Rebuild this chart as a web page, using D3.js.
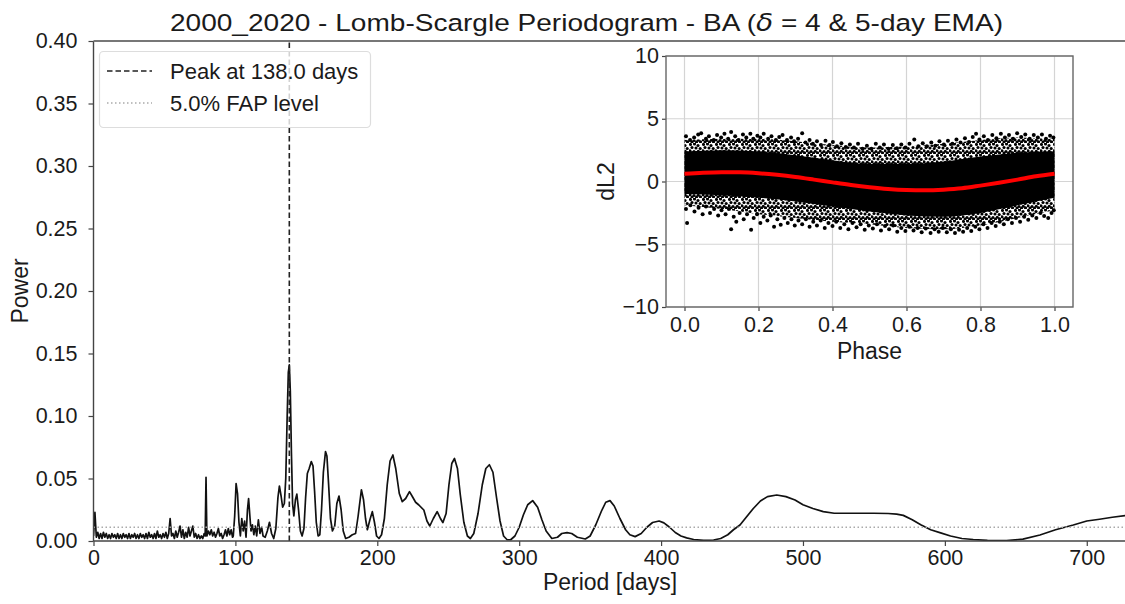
<!DOCTYPE html>
<html><head><meta charset="utf-8">
<script src="https://cdn.jsdelivr.net/npm/d3@7"></script>
<style>
body{margin:0;background:#fff;}
svg{display:block;font-family:"Liberation Sans",Arial,sans-serif;}
</style></head><body>
<svg id="c" width="1125" height="604"></svg>
<script>
// ---------- main periodogram ----------
const periods = [0,1,2,3,4,5,6,7,8,9,10,11,12,13,14,15,16,17,18,19,20,21,22,23,24,25,26,27,28,29,
30,31,32,33,34,35,36,37,38,39,40,41,42,43,44,45,46,47,48,49,50,51,52,53,54,55,56,57,58,59,
60,61,62,63,64,65,66,67,68,69,70,71,72,73,74,75,76,77,78,78.7,79.3,79.9,81,82,83,84,85,86,87,88,89,
90,91,92,93,94,95,96,97,98,
98.5,99.5,100.5,101.5,102.5,103.5,104.5,105.5,106.5,107.5,108.5,109.3,110.2,111,112,113,114,115,116.2,117.3,
118.5,119.5,121,122.5,124,125.5,127,128.5,130,131,132.2,133.3,134.5,135.5,136.5,137.3,138,138.7,139.5,140.3,
141.2,142.3,143.3,144.5,145.8,147,148.3,149.5,150.7,152,153.5,154.7,155.8,157,158.3,159.5,160.7,162,163.5,164.5,
165.7,167,168.4,170,171.5,173,174.5,176,177.7,180,182.4,184.7,186.5,188.8,190.3,191.7,193,194.8,196.5,198,
199.5,201.2,203,205,207,209,211,213,215.5,217.6,220,222.7,225,227,229.3,232.8,235,237,239.5,242.2,
244.5,246.2,248.5,250.5,252.5,254.4,256.5,258.5,261,263.5,265.6,268,271,274,276.5,279,281.5,284,286.5,289,
291.5,294,297,300,303,306,309.5,313,316,319,323,327,330,333.7,337,341,346.6,350,354,358,
361,364,367,371,375,378,381.7,386,390,394,398.6,402,406,410,414,418,423,430,437,442,
447,451,455.6,460,465,470,475,481.5,488,494.4,500,507,514.3,522,530,540,550,560,566,570.7,
577,583,590,597,604,612,620,630,643.5,655,667,678,690.5,700,709,718,727];
const power = [0.004,0.023,0.003,0.007,0.002,0.006,0.002,0.007,0.003,0.006,
0.002,0.005,0.002,0.006,0.003,0.005,0.002,0.006,0.002,0.005,
0.002,0.006,0.003,0.005,0.002,0.006,0.002,0.005,0.003,0.006,
0.002,0.005,0.002,0.006,0.003,0.005,0.002,0.006,0.002,0.007,
0.003,0.005,0.002,0.006,0.002,0.008,0.003,0.005,0.002,0.006,
0.003,0.007,0.002,0.006,0.018,0.004,0.006,0.002,0.008,0.003,
0.007,0.012,0.003,0.009,0.002,0.007,0.003,0.011,0.004,0.008,
0.012,0.003,0.006,0.002,0.005,0.002,0.004,0.002,0.006,0.004,0.051,0.004,
0.008,0.005,0.009,0.004,0.007,0.003,0.006,0.010,0.004,0.006,0.002,0.005,0.009,0.004,0.010,0.005,0.009,0.003,
0.004,0.02,0.046,0.038,0.015,0.004,0.018,0.008,0.016,0.003,0.025,0.034,0.02,0.008,0.013,0.005,0.012,0.004,0.017,0.006,
0.011,0.004,0.003,0.008,0.015,0.006,0.002,0.01,0.035,0.044,0.036,0.027,0.03,0.05,0.1,0.135,0.141,0.12,0.07,0.03,
0.02,0.033,0.0375,0.025,0.008,0.004,0.01,0.035,0.054,0.058,0.0635,0.06,0.04,0.015,0.004,0.005,0.025,0.055,0.0715,0.068,
0.045,0.018,0.008,0.012,0.03,0.036,0.025,0.008,0.002,0.003,0.005,0.006,0.02,0.041,0.033,0.018,0.009,0.017,0.0235,0.015,
0.004,0.002,0.005,0.018,0.045,0.064,0.0688,0.058,0.038,0.0315,0.034,0.0395,0.035,0.031,0.0288,0.0248,0.016,0.012,0.018,0.0235,
0.018,0.0147,0.022,0.045,0.062,0.066,0.058,0.037,0.015,0.004,0.002,0.006,0.022,0.045,0.058,0.061,0.055,0.035,0.016,0.004,
0.001,0.001,0.004,0.011,0.021,0.029,0.0323,0.027,0.017,0.008,0.002,0.003,0.006,0.0067,0.006,0.003,0.0016,0.004,0.013,0.024,
0.031,0.0323,0.028,0.018,0.009,0.005,0.0035,0.006,0.011,0.0148,0.016,0.0145,0.011,0.0068,0.004,0.0025,0.0012,0.0005,0.0008,0.002,
0.005,0.009,0.0128,0.019,0.026,0.032,0.0355,0.0368,0.0355,0.0328,0.029,0.026,0.0235,0.0222,0.0222,0.0222,0.0222,0.022,0.0215,0.0205,
0.017,0.013,0.009,0.0065,0.004,0.002,0.0012,0.0005,0.0003,0.0015,0.0048,0.009,0.0128,0.016,0.0174,0.019,0.0203];
const peakPeriod = 138.0;
const fapLevel = 0.011;
const xTicks = [0,100,200,300,400,500,600,700];
const yTicks = [0,0.05,0.10,0.15,0.20,0.25,0.30,0.35,0.40];
const legendLabels = ["Peak at 138.0 days","5.0% FAP level"];

// ---------- inset: phase-folded data ----------
const fitPhase = [0,0.05,0.1,0.15,0.2,0.25,0.3,0.35,0.4,0.45,0.5,0.55,0.6,0.65,0.7,0.75,0.8,0.85,0.9,0.95,1.0];
const fitValue = [0.62,0.70,0.74,0.73,0.66,0.53,0.36,0.15,-0.07,-0.28,-0.46,-0.6,-0.68,-0.7,-0.65,-0.54,-0.33,-0.1,0.15,0.42,0.62];
// dense scatter: solid core and speckled outer band (envelopes)
const bandPhase = [0,0.1,0.2,0.3,0.4,0.5,0.6,0.7,0.8,0.9,1.0];
const coreHigh = [2.4,2.5,2.4,2.1,1.7,1.4,1.4,1.6,2.0,2.3,2.4];
const coreLow = [-1.0,-1.1,-1.3,-1.6,-2.0,-2.4,-2.7,-2.8,-2.5,-1.9,-1.3];
const outerHigh = [3.3,3.4,3.4,3.2,2.9,2.7,2.8,3.0,3.3,3.5,3.4];
const outerLow = [-1.9,-2.2,-2.6,-2.9,-3.2,-3.4,-3.7,-3.8,-3.5,-2.9,-2.3];
const upperPoints = [[0.004,3.6],[0.015,3.3],[0.026,3.5],[0.037,3.75],[0.045,3.85],[0.058,3.4],[0.066,3.6],[0.079,3.3],[0.088,3.7],[0.099,3.5],[0.108,3.8],[0.118,3.4],[0.126,3.95],[0.137,3.6],[0.146,3.3],[0.158,3.75],[0.167,3.5],[0.178,3.8],[0.186,3.4],[0.197,3.65],[0.205,3.5],[0.214,3.8],[0.226,3.4],[0.235,3.6],[0.247,3.3],[0.256,3.55],[0.265,3.7],[0.277,3.3],[0.288,3.5],[0.296,3.2],[0.307,3.4],[0.318,3.85],[0.327,3.1],[0.338,3.3],[0.347,3.0],[0.358,3.2],[0.369,2.9],[0.381,3.25],[0.392,2.9],[0.401,3.15],[0.412,2.8],[0.424,3.05],[0.436,2.75],[0.447,2.95],[0.458,2.7],[0.469,3.0],[0.481,2.6],[0.493,2.85],[0.505,2.6],[0.517,3.0],[0.528,2.7],[0.539,2.95],[0.551,2.6],[0.563,2.9],[0.574,2.65],[0.586,2.95],[0.597,2.7],[0.608,3.0],[0.621,3.35],[0.632,2.8],[0.644,3.05],[0.655,2.8],[0.667,3.1],[0.678,2.85],[0.689,3.2],[0.701,2.95],[0.712,3.25],[0.724,3.0],[0.735,3.35],[0.746,3.1],[0.758,3.45],[0.769,3.15],[0.779,3.55],[0.788,3.8],[0.797,3.35],[0.809,3.6],[0.82,3.3],[0.832,3.7],[0.843,3.45],[0.855,3.8],[0.866,3.5],[0.877,3.7],[0.888,3.4],[0.899,3.85],[0.91,3.55],[0.921,3.75],[0.933,3.4],[0.944,3.7],[0.955,3.5],[0.966,3.75],[0.977,3.4],[0.988,3.65],[0.997,3.5]];
const lowerPoints = [[0.004,-2.2],[0.007,-3.3],[0.016,-1.9],[0.027,-2.4],[0.038,-2.1],[0.049,-2.6],[0.058,-2.0],[0.069,-2.5],[0.08,-2.2],[0.091,-2.7],[0.1,-2.3],[0.111,-2.6],[0.12,-2.2],[0.126,-3.8],[0.133,-2.8],[0.14,-3.2],[0.149,-2.5],[0.16,-3.0],[0.169,-2.6],[0.18,-3.85],[0.187,-2.9],[0.196,-2.6],[0.205,-3.3],[0.214,-2.8],[0.224,-3.1],[0.233,-2.7],[0.242,-3.6],[0.251,-3.0],[0.26,-3.45],[0.27,-2.9],[0.279,-3.3],[0.289,-3.0],[0.298,-3.5],[0.308,-3.1],[0.318,-3.4],[0.328,-3.0],[0.338,-3.6],[0.348,-3.2],[0.358,-3.5],[0.368,-3.1],[0.379,-3.7],[0.389,-3.3],[0.4,-3.55],[0.41,-3.2],[0.421,-3.7],[0.432,-3.4],[0.443,-3.8],[0.454,-3.3],[0.465,-3.65],[0.476,-3.4],[0.487,-3.85],[0.498,-3.5],[0.509,-3.75],[0.52,-3.4],[0.531,-3.9],[0.542,-3.55],[0.553,-3.8],[0.564,-3.5],[0.575,-4.0],[0.586,-3.7],[0.597,-3.95],[0.608,-3.6],[0.619,-3.9],[0.63,-3.7],[0.641,-4.05],[0.652,-3.75],[0.665,-4.1],[0.676,-3.8],[0.687,-4.0],[0.698,-3.7],[0.709,-4.05],[0.72,-3.8],[0.731,-4.1],[0.742,-3.85],[0.753,-4.0],[0.764,-3.7],[0.775,-3.95],[0.786,-3.6],[0.797,-3.8],[0.808,-3.4],[0.819,-3.7],[0.83,-3.3],[0.841,-3.55],[0.852,-3.2],[0.863,-3.4],[0.874,-3.0],[0.885,-3.3],[0.896,-2.9],[0.907,-3.2],[0.918,-2.8],[0.929,-3.05],[0.94,-2.7],[0.951,-2.9],[0.962,-2.5],[0.972,-2.75],[0.983,-2.9],[0.992,-2.5],[0.998,-2.3]];
const insetXTicks = [0,0.2,0.4,0.6,0.8,1.0];
const insetYTicks = [-10,-5,0,5,10];

// ---------- drawing ----------
const svg = d3.select("#c");
const TICK_FS = 21.5, LABEL_FS = 23, LEGEND_FS = 22;
const axisColor = "#444";
const textColor = "#1a1a1a";

const defs = svg.append("defs");
// irregular speckle texture for the dense part of the scatter
const pat = defs.append("pattern").attr("id","speckle").attr("patternUnits","userSpaceOnUse")
  .attr("width",13).attr("height",11);
[[1.5,1.5],[5.5,1],[9,2.5],[3,4.5],[7,5],[11.2,5.5],[1,7.8],[5,8.5],[9.3,8.2],[3,10],[7.5,10],[11.5,9.8]]
  .forEach(c=>pat.append("circle").attr("cx",c[0]).attr("cy",c[1]).attr("r",1.55).attr("fill","#000"));

const M = {left:93.5, right:1126.5, top:41, bottom:541};
const x = d3.scaleLinear().domain([0,728]).range([M.left,M.right]);
const y = d3.scaleLinear().domain([0,0.4]).range([M.bottom,M.top]);

defs.append("clipPath").attr("id","mainclip").append("rect")
  .attr("x",M.left).attr("y",M.top).attr("width",M.right-M.left).attr("height",M.bottom-M.top);

const main = svg.append("g");
const pts = periods.map((p,i)=>[p,power[i]]);
main.append("path").datum(pts)
  .attr("clip-path","url(#mainclip)")
  .attr("fill","none").attr("stroke","#111").attr("stroke-width",1.7).attr("stroke-linejoin","round")
  .attr("d",d3.line().x(d=>x(d[0])).y(d=>y(d[1])));

main.append("line").attr("x1",M.left).attr("x2",M.right).attr("y1",y(fapLevel)).attr("y2",y(fapLevel))
  .attr("stroke","#aaa").attr("stroke-width",1.5).attr("stroke-dasharray","1.5,2.5");
main.append("line").attr("x1",x(peakPeriod)).attr("x2",x(peakPeriod)).attr("y1",M.bottom).attr("y2",M.top)
  .attr("stroke","#222").attr("stroke-width",1.6).attr("stroke-dasharray","5.5,3");

function styleAxis(g){
  g.select(".domain").remove();
  g.selectAll(".tick line").attr("stroke",axisColor).attr("stroke-width",1.2);
  g.selectAll(".tick text").attr("fill",textColor).style("font-size",TICK_FS+"px")
    .style("font-family","'Liberation Sans',Arial,sans-serif");
}
svg.append("g").attr("transform",`translate(0,${M.bottom})`)
  .call(d3.axisBottom(x).tickValues(xTicks).tickFormat(d3.format("d")).tickSize(5).tickPadding(4)).call(styleAxis);
svg.append("g").attr("transform",`translate(${M.left},0)`)
  .call(d3.axisLeft(y).tickValues(yTicks).tickFormat(d3.format(".2f")).tickSize(5).tickPadding(11)).call(styleAxis);
const sp = svg.append("g").attr("stroke-width",1.4);
sp.append("line").attr("x1",M.left).attr("x2",M.left).attr("y1",M.top).attr("y2",M.bottom).attr("stroke",axisColor);
sp.append("line").attr("x1",M.left).attr("x2",M.right).attr("y1",M.bottom).attr("y2",M.bottom).attr("stroke",axisColor);
sp.append("line").attr("x1",M.left).attr("x2",M.right).attr("y1",M.top).attr("y2",M.top).attr("stroke","#777").attr("stroke-width",2);
sp.append("line").attr("x1",M.right).attr("x2",M.right).attr("y1",M.top).attr("y2",M.bottom).attr("stroke",axisColor);

svg.append("text").attr("x",(M.left+M.right)/2).attr("y",590).attr("text-anchor","middle")
  .attr("fill",textColor).style("font-size",LABEL_FS+"px").text("Period [days]");
svg.append("text").attr("transform",`translate(28,${(M.top+M.bottom)/2}) rotate(-90)`).attr("text-anchor","middle")
  .attr("fill",textColor).style("font-size",LABEL_FS+"px").text("Power");
const title = svg.append("text").attr("x",170).attr("y",31).attr("fill",textColor).style("font-size","24.5px")
  .attr("textLength",833).attr("lengthAdjust","spacingAndGlyphs");
title.append("tspan").text("2000_2020 - Lomb-Scargle Periodogram - BA (");
title.append("tspan").style("font-style","italic").style("font-family","'DejaVu Sans',sans-serif").text("δ");
title.append("tspan").text(" = 4 & 5-day EMA)");

// legend
const lg = svg.append("g");
lg.append("rect").attr("x",99.5).attr("y",51.5).attr("width",271).attr("height",76).attr("rx",4)
  .attr("fill","#fff").attr("fill-opacity",0.8).attr("stroke","#ddd").attr("stroke-width",1.2);
lg.append("line").attr("x1",107).attr("x2",152).attr("y1",71).attr("y2",71)
  .attr("stroke","#222").attr("stroke-width",1.6).attr("stroke-dasharray","5.5,3");
lg.append("line").attr("x1",107).attr("x2",152).attr("y1",103).attr("y2",103)
  .attr("stroke","#aaa").attr("stroke-width",1.5).attr("stroke-dasharray","1.5,2.5");
lg.selectAll("text.lab").data(legendLabels).join("text").attr("class","lab")
  .attr("x",170).attr("y",(d,i)=>78.5+i*32).attr("fill",textColor).style("font-size",LEGEND_FS+"px").text(d=>d);

// ---------- inset ----------
const I = {left:666, right:1073, top:56, bottom:307};
const xi = d3.scaleLinear().domain([-0.05,1.05]).range([I.left,I.right]);
const yi = d3.scaleLinear().domain([-10,10]).range([I.bottom,I.top]);
const ins = svg.append("g");
ins.append("rect").attr("x",I.left).attr("y",I.top).attr("width",I.right-I.left).attr("height",I.bottom-I.top).attr("fill","#fff");
ins.selectAll("line.gx").data(insetXTicks).join("line").attr("class","gx")
  .attr("x1",d=>xi(d)).attr("x2",d=>xi(d)).attr("y1",I.top).attr("y2",I.bottom).attr("stroke","#d4d4d4").attr("stroke-width",1.2);
ins.selectAll("line.gy").data(insetYTicks).join("line").attr("class","gy")
  .attr("x1",I.left).attr("x2",I.right).attr("y1",d=>yi(d)).attr("y2",d=>yi(d)).attr("stroke","#d4d4d4").attr("stroke-width",1.2);
const outerData = bandPhase.map((p,i)=>[p,outerLow[i],outerHigh[i]]);
const coreData = bandPhase.map((p,i)=>[p,coreLow[i],coreHigh[i]]);
const band = d3.area().curve(d3.curveMonotoneX).x(d=>xi(d[0])).y0(d=>yi(d[1])).y1(d=>yi(d[2]));
ins.append("path").datum(outerData).attr("fill","url(#speckle)").attr("d",band);
ins.append("path").datum(coreData).attr("fill","#000").attr("d",band);
ins.selectAll("circle.sp").data(upperPoints.concat(lowerPoints)).join("circle").attr("class","sp")
  .attr("cx",d=>xi(d[0])).attr("cy",d=>yi(d[1])).attr("r",2).attr("fill","#000");
ins.append("path").datum(fitPhase.map((p,i)=>[p,fitValue[i]]))
  .attr("fill","none").attr("stroke","#f00").attr("stroke-width",4)
  .attr("d",d3.line().curve(d3.curveMonotoneX).x(d=>xi(d[0])).y(d=>yi(d[1])));
svg.append("g").attr("transform",`translate(0,${I.bottom})`)
  .call(d3.axisBottom(xi).tickValues(insetXTicks).tickFormat(d3.format(".1f")).tickSize(4).tickPadding(5.5)).call(styleAxis);
svg.append("g").attr("transform",`translate(${I.left},0)`)
  .call(d3.axisLeft(yi).tickValues(insetYTicks).tickFormat(d3.format("d")).tickSize(4).tickPadding(3)).call(styleAxis);
svg.append("rect").attr("x",I.left).attr("y",I.top).attr("width",I.right-I.left).attr("height",I.bottom-I.top)
  .attr("fill","none").attr("stroke","#666").attr("stroke-width",1.4);
svg.append("text").attr("x",(I.left+I.right)/2).attr("y",359).attr("text-anchor","middle")
  .attr("fill",textColor).style("font-size",LABEL_FS+"px").text("Phase");
svg.append("text").attr("transform",`translate(614,${(I.top+I.bottom)/2}) rotate(-90)`).attr("text-anchor","middle")
  .attr("fill",textColor).style("font-size",LABEL_FS+"px").text("dL2");
</script>
</body></html>
